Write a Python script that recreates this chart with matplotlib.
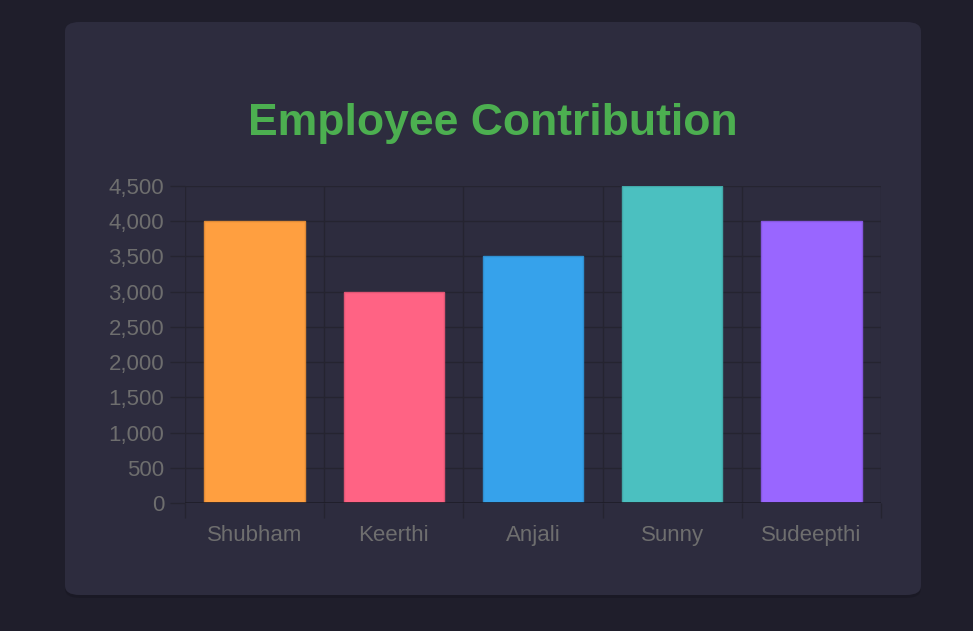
import matplotlib.pyplot as plt
from matplotlib.patches import FancyBboxPatch
from matplotlib.ticker import FuncFormatter

# data
employees = ["Shubham", "Keerthi", "Anjali", "Sunny", "Sudeepthi"]
contributions = [4000, 3000, 3500, 4500, 4000]
bar_colors = ["#ff9f40", "#ff6384", "#36a2eb", "#4bc0c0", "#9966ff"]
edge_colors = ["#e08a35", "#e05574", "#2f8fd0", "#42a9a9", "#8657e0"]
y_ticks = list(range(0, 4501, 500))

bg = "#1f1e2b"
card = "#2d2c3e"
grid = "#252430"
text_grey = "#6e6e6e"

fig = plt.figure(figsize=(9.73, 6.31), dpi=100)
fig.patch.set_facecolor(bg)

# card background with rounded corners and a soft shadow
W, H = 973, 631
shadow = FancyBboxPatch((65 / W, (631 - 598) / H), 856 / W, 573 / H,
                        boxstyle="round,pad=0,rounding_size=0.015",
                        transform=fig.transFigure, facecolor="#181722",
                        edgecolor="none", zorder=-2, alpha=0.6)
fig.patches.append(shadow)
card_box = FancyBboxPatch((65 / W, (631 - 595) / H), 856 / W, 573 / H,
                          boxstyle="round,pad=0,rounding_size=0.015",
                          transform=fig.transFigure, facecolor=card,
                          edgecolor="none", zorder=-1)
fig.patches.append(card_box)

ax = fig.add_axes([185 / W, 1 - 503 / H, 696 / W, 317 / H])
ax.set_facecolor("none")
ax.set_zorder(2)

x = list(range(len(employees)))
ax.bar(x, contributions, width=0.72, color=bar_colors, edgecolor=edge_colors,
       linewidth=1, zorder=3)

ax.set_xlim(-0.5, len(employees) - 0.5)
ax.set_ylim(0, 4500)

# gridlines at category boundaries (Chart.js offset style)
ax.set_xticks([i - 0.5 for i in range(len(employees) + 1)])
ax.set_xticklabels([])
ax.set_xticks(x, minor=True)
ax.set_xticklabels(employees, minor=True)
ax.tick_params(axis="x", which="major", length=11, color=grid, width=1)
ax.tick_params(axis="x", which="minor", length=0, pad=16, labelsize=16,
               labelcolor=text_grey)

ax.set_yticks(y_ticks)
ax.yaxis.set_major_formatter(FuncFormatter(lambda v, p: f"{int(v):,}"))
ax.tick_params(axis="y", length=11, color=grid, width=1, pad=4,
               labelsize=16, labelcolor=text_grey)

for t in ax.get_yticklabels() + ax.get_xticklabels(minor=True):
    t.set_fontfamily("Liberation Sans")

ax.grid(True, which="major", color=grid, linewidth=1.0, zorder=0)
for s in ax.spines.values():
    s.set_visible(False)
ax.axhline(0, color="#1e1d28", linewidth=1.2, zorder=4)

fig.text(493 / W, 1 - 123 / H, "Employee Contribution", ha="center",
         va="center", color="#4caf50", fontsize=32, fontweight="bold",
         family="Liberation Sans")

plt.savefig("out.png", dpi=100, facecolor=bg)
